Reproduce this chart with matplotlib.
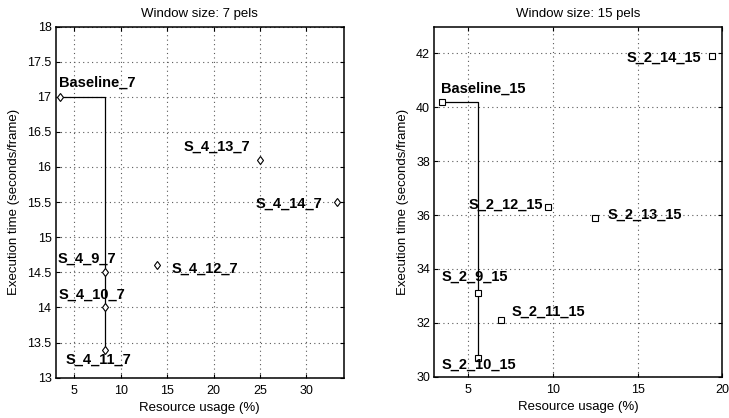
import matplotlib
matplotlib.use("Agg")
import matplotlib.pyplot as plt

plt.rcParams['font.family'] = ['Liberation Sans', 'DejaVu Sans']

# Left panel data (window 7)
names_7 = ["Baseline_7", "S_4_9_7", "S_4_10_7", "S_4_11_7", "S_4_12_7", "S_4_13_7", "S_4_14_7"]
usage_7 = [3.47, 8.33, 8.33, 8.33, 13.9, 25.0, 33.3]
time_7 = [17.0, 14.5, 14.0, 13.4, 14.6, 16.1, 15.5]
label_x_7 = [3.36, 3.18, 3.29, 4.08, 15.44, 16.79, 24.55]
label_y_7 = [17.15, 14.64, 14.12, 13.2, 14.50, 16.23, 15.42]
frontier_7 = ["Baseline_7", "S_4_11_7"]

# Right panel data (window 15)
names_15 = ["Baseline_15", "S_2_9_15", "S_2_10_15", "S_2_11_15", "S_2_12_15", "S_2_13_15", "S_2_14_15"]
usage_15 = [3.45, 5.58, 5.58, 6.92, 9.7, 12.47, 19.38]
time_15 = [40.2, 33.1, 30.7, 32.1, 36.3, 35.9, 41.9]
label_x_15 = [3.41, 3.44, 3.44, 7.57, 5.0, 13.22, 14.36]
label_y_15 = [40.54, 33.55, 30.31, 32.26, 36.22, 35.88, 41.71]
frontier_15 = ["Baseline_15", "S_2_10_15"]

fig = plt.figure(figsize=(7.29, 4.18), dpi=100)
ax1 = fig.add_axes([0.0763, 0.0965, 0.395, 0.840])
ax2 = fig.add_axes([0.5957, 0.0990, 0.395, 0.8375])


def draw(ax, names, xs, ys, lx, ly, frontier, marker, title, xlim, ylim, xticks, yticks, yfmt):
    idx = [names.index(n) for n in frontier]
    fx = [xs[i] for i in idx]
    fy = [ys[i] for i in idx]
    ax.plot(fx, fy, color='black', lw=0.9, drawstyle='steps-post', zorder=2)
    ax.plot(xs, ys, linestyle='none', marker=marker, ms=4.5,
            mfc='white', mec='black', mew=0.8, zorder=3)
    for n, x, y in zip(names, lx, ly):
        ax.text(x, y, n, fontsize=10.5, fontweight='bold', ha='left', va='baseline', zorder=4)
    ax.set_xlim(*xlim)
    ax.set_ylim(*ylim)
    ax.set_xticks(xticks)
    ax.set_yticks(yticks)
    ax.set_yticklabels([yfmt(v) for v in yticks])
    ax.grid(True, linestyle=(0, (1, 3)), color='0.35', linewidth=0.8)
    ax.tick_params(direction='in', top=True, right=True, length=3, labelsize=9, width=0.8)
    ax.tick_params(axis='x', pad=5.5)
    ax.tick_params(axis='y', pad=3)
    for s in ax.spines.values():
        s.set_linewidth(1.1)
    ax.set_title(title, fontsize=9.5, pad=7)
    ax.set_xlabel("Resource usage (%)", fontsize=9.5, labelpad=3.5)
    ax.set_ylabel("Execution time (seconds/frame)", fontsize=9.5, labelpad=5)


def fmt(v):
    return ('%g' % v)


draw(ax1, names_7, usage_7, time_7, label_x_7, label_y_7, frontier_7, 'd',
     "Window size: 7 pels", (3, 34), (13, 18), [5, 10, 15, 20, 25, 30],
     [13, 13.5, 14, 14.5, 15, 15.5, 16, 16.5, 17, 17.5, 18], fmt)
draw(ax2, names_15, usage_15, time_15, label_x_15, label_y_15, frontier_15, 's',
     "Window size: 15 pels", (3, 20), (30, 43), [5, 10, 15, 20],
     [30, 32, 34, 36, 38, 40, 42], fmt)

fig.savefig("out.png", dpi=100)
